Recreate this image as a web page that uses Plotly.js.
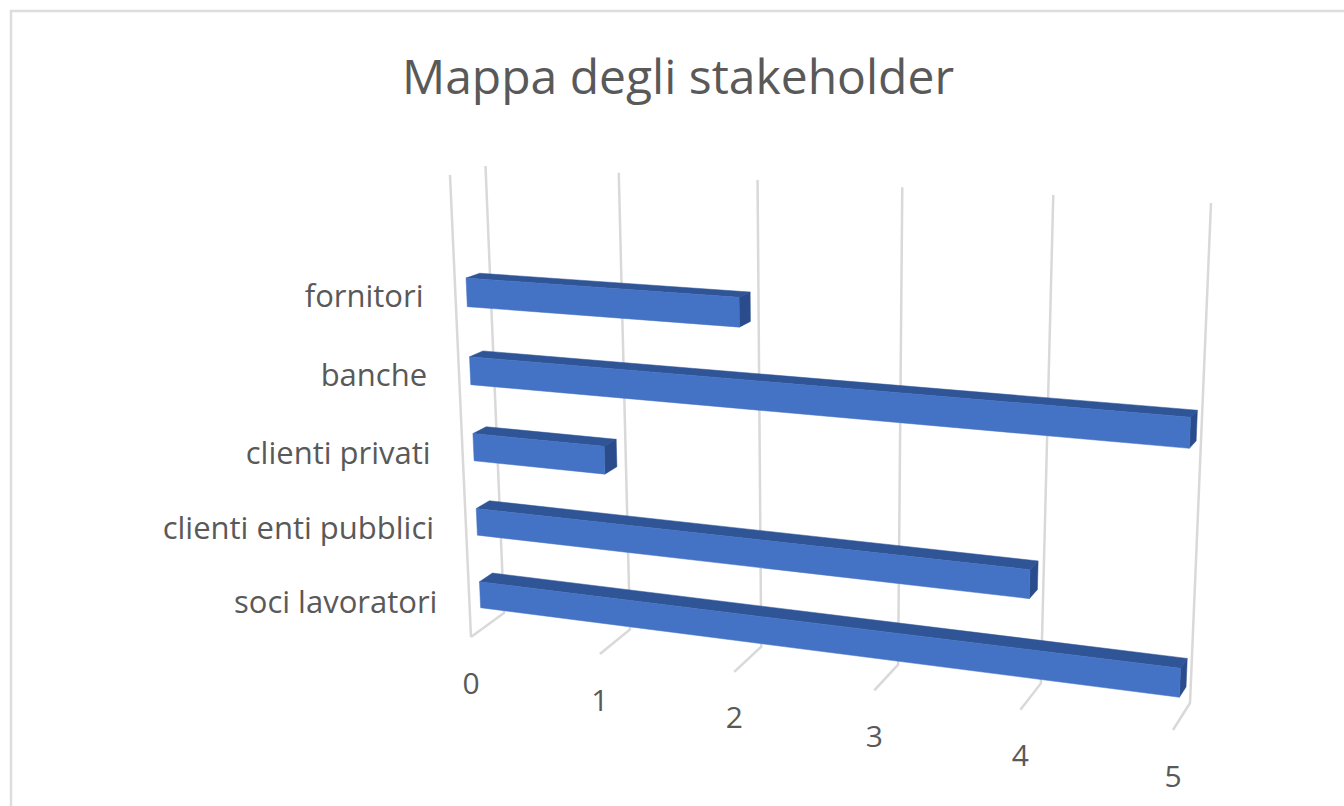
<!DOCTYPE html>
<html>
<head>
<meta charset="utf-8">
<script src="https://cdn.plot.ly/plotly-3.0.1.min.js"></script>
<style>html,body{margin:0;padding:0;background:#fff;overflow:hidden}#chart{width:1344px;height:806px}</style>
</head>
<body>
<div id="chart"></div>
<script>
// Data, bottom to top as in the chart
const categories = ["soci lavoratori", "clienti enti pubblici", "clienti privati", "banche", "fornitori"];
const values = [5, 4, 1, 5, 2];
const valueTicks = [0, 1, 2, 3, 4, 5];

// Projection of the 3-D box (value, category, depth) onto the page
const vMax = 5, slotCount = 5.97, slotOffset = 0.482, perspective = 0.9, catPerspective = 0.93;
const halfBar = 0.18, depthBack = 0.29, depthFront = 0.68;
const corners = {
  wall:  {bl: [504, 613], tl: [485.5, 166], br: [1190, 703], tr: [1211, 203]},
  front: {bl: [471, 637], tl: [450, 175],  br: [1173, 730], tr: [1193, 215]}
};
const warp = (t, r) => r * t / (1 + (r - 1) * t);
const lerp = (a, b, t) => a + (b - a) * t;
function project(v, h, d) {
  const t = warp(v / vMax, perspective);
  return [0, 1].map(k => {
    const plane = c => lerp(lerp(c.bl[k], c.br[k], t), lerp(c.tl[k], c.tr[k], t), h);
    return lerp(plane(corners.wall), plane(corners.front), d);
  });
}
const catH = c => warp((c + slotOffset) / slotCount, catPerspective);

const traces = [];
function poly(points, color, closed, width) {
  const pts = closed ? points.concat([points[0]]) : points;
  traces.push({
    type: "scatter", mode: "lines", hoverinfo: "skip", showlegend: false,
    x: pts.map(p => p[0]), y: pts.map(p => p[1]),
    fill: closed ? "toself" : "none", fillcolor: closed ? color : undefined,
    line: {color: color, width: width, simplify: false}
  });
}

// Gridlines
const gridColor = "#D9D9D9";
poly([project(0, 1, 1), project(0, 0, 1)], gridColor, false, 2.5);
valueTicks.forEach(v => poly([project(v, 1, 0), project(v, 0, 0), project(v, 0, 1)], gridColor, false, 2.5));

// Bars: top, right side, front
values.forEach((val, i) => {
  const lo = catH(i - halfBar), hi = catH(i + halfBar);
  poly([project(0, hi, depthBack), project(val, hi, depthBack), project(val, hi, depthFront), project(0, hi, depthFront)], "#2F5597", true, 0.5);
  poly([project(val, hi, depthFront), project(val, hi, depthBack), project(val, lo, depthBack), project(val, lo, depthFront)], "#2A4C8C", true, 0.5);
  poly([project(0, lo, depthFront), project(val, lo, depthFront), project(val, hi, depthFront), project(0, hi, depthFront)], "#4472C4", true, 0.5);
});

// Text labels
const catFont = {family: "Open Sans, sans-serif", size: 31, color: "#595959"};
const tickFont = {family: "Open Sans, sans-serif", size: 30, color: "#595959"};
const catAnchors = categories.map((c, i) => project(0, catH(i), 1));
const tickAnchors = valueTicks.map(v => project(v, 0, 1));
traces.push({
  type: "scatter", mode: "text", hoverinfo: "skip", showlegend: false,
  x: catAnchors.map(p => p[0] - 32), y: catAnchors.map(p => p[1] + 3),
  text: categories, textposition: "middle left", textfont: catFont
});
traces.push({
  type: "scatter", mode: "text", hoverinfo: "skip", showlegend: false,
  x: tickAnchors.map(p => p[0]), y: tickAnchors.map(p => p[1] + 49),
  text: valueTicks.map(String), textposition: "middle center", textfont: tickFont
});

const layout = {
  width: 1344, height: 806,
  margin: {l: 0, r: 0, t: 0, b: 0},
  paper_bgcolor: "#fff", plot_bgcolor: "#fff",
  showlegend: false,
  title: {text: "Mappa degli stakeholder", x: 678 / 1344, xanchor: "center", y: 1 - 77 / 806, yanchor: "middle",
          font: {family: "Open Sans, sans-serif", size: 48, color: "#595959"}},
  xaxis: {range: [0, 1344], visible: false, fixedrange: true},
  yaxis: {range: [806, 0], visible: false, fixedrange: true},
  shapes: [{type: "path", xref: "x", yref: "y", path: "M 11 806 L 11 11 L 1344 11", line: {color: "#DDDDDD", width: 2.5}}]
};
Plotly.newPlot("chart", traces, layout, {displayModeBar: false, staticPlot: true});
</script>
</body>
</html>
